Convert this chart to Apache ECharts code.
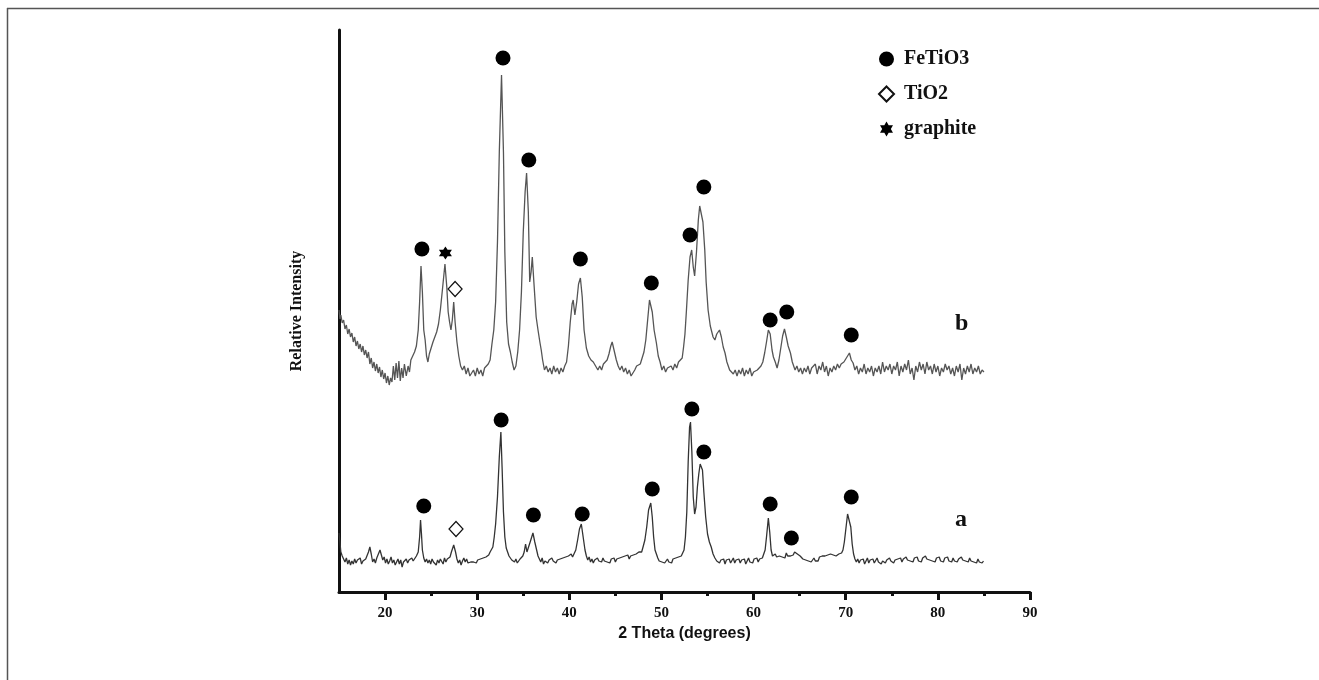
<!DOCTYPE html>
<html>
<head>
<meta charset="utf-8">
<script src="https://cdn.jsdelivr.net/npm/echarts@6/dist/echarts.min.js"></script>
<style>html,body{margin:0;padding:0;background:#fff;}#c{width:1319px;height:680px;}</style>
</head>
<body>
<div id="c"></div>
<script>
// 2 Theta tick labels
var majorTicks = [20,30,40,50,60,70,80,90];
var minorTicks = [25,35,45,55,65,75,85];

// Trace b (upper) : [2theta, relative intensity]
var traceB = [
[15.0,282],[15.1,273],[15.2,277],[15.35,269],[15.5,272],[15.65,263],[15.8,267],[15.95,258],[16.1,263],[16.25,255],[16.4,259],[16.55,250],[16.7,255],[16.85,246],[17.0,251],[17.15,243],[17.3,248],[17.45,240],[17.6,246],[17.75,237],[17.9,242],[18.05,234],[18.2,240],[18.35,228],[18.5,234],[18.65,224],[18.8,230],[18.95,221],[19.1,228],[19.25,219],[19.4,225],[19.55,215],[19.7,222],[19.85,213],[20.0,219],[20.15,209],[20.3,216],[20.45,207],[20.6,214],[20.75,210],[20.9,226],[21.05,212],[21.2,229],[21.35,214],[21.5,231],[21.65,211],[21.8,224],[21.95,214],[22.1,228],[22.3,216],[22.5,226],[22.65,220],[22.8,232],[23.0,234],[23.2,240],[23.4,246],[23.6,262],[23.75,290],[23.9,326],[24.05,300],[24.2,262],[24.35,252],[24.5,236],[24.65,230],[24.8,238],[25.0,240],[25.2,250],[25.4,252],[25.6,260],[25.8,268],[26.0,282],[26.2,300],[26.5,328],[26.7,305],[26.85,280],[27.0,270],[27.15,262],[27.3,272],[27.45,290],[27.6,270],[27.8,250],[28.0,236],[28.2,226],[28.4,222],[28.6,226],[28.8,218],[29.0,224],[29.2,216],[29.4,214],[29.6,222],[29.8,216],[30.0,224],[30.2,218],[30.4,222],[30.6,216],[30.8,224],[31.0,222],[31.2,228],[31.4,232],[31.6,248],[31.8,262],[32.0,290],[32.2,350],[32.4,440],[32.64,517],[32.85,440],[33.0,340],[33.2,270],[33.4,248],[33.6,240],[33.8,230],[34.0,222],[34.2,226],[34.4,240],[34.6,262],[34.8,300],[35.0,360],[35.2,400],[35.36,419],[35.55,380],[35.7,310],[35.85,320],[35.98,335],[36.15,310],[36.4,275],[36.6,262],[36.8,250],[36.95,242],[37.1,232],[37.3,222],[37.5,226],[37.7,220],[37.9,224],[38.1,218],[38.3,226],[38.5,220],[38.7,224],[38.9,218],[39.1,224],[39.3,220],[39.5,226],[39.7,230],[39.9,246],[40.1,270],[40.3,288],[40.42,292],[40.6,277],[40.8,290],[41.0,308],[41.2,314],[41.4,295],[41.6,262],[41.85,244],[42.1,236],[42.35,232],[42.6,230],[42.85,226],[43.1,222],[43.3,226],[43.5,222],[43.7,228],[43.9,226],[44.1,232],[44.3,238],[44.5,246],[44.65,250],[44.85,242],[45.1,232],[45.3,226],[45.5,222],[45.7,226],[45.9,220],[46.1,224],[46.3,218],[46.5,222],[46.7,216],[46.9,218],[47.1,222],[47.3,226],[47.5,224],[47.7,228],[47.9,234],[48.1,240],[48.3,252],[48.5,272],[48.7,292],[48.85,294],[49.0,280],[49.2,262],[49.45,249],[49.65,236],[49.85,230],[50.05,222],[50.25,226],[50.45,220],[50.65,224],[50.85,222],[51.05,226],[51.25,222],[51.45,228],[51.65,224],[51.85,230],[52.05,228],[52.25,234],[52.4,245],[52.55,258],[52.7,280],[52.9,312],[53.1,335],[53.28,342],[53.45,325],[53.6,316],[53.8,340],[54.0,372],[54.15,386],[54.3,388],[54.5,370],[54.7,342],[54.85,310],[55.06,282],[55.3,266],[55.6,255],[55.8,252],[56.0,258],[56.3,262],[56.5,255],[56.7,245],[56.9,239],[57.1,230],[57.4,222],[57.6,224],[57.8,218],[58.0,222],[58.2,216],[58.4,222],[58.6,218],[58.8,224],[59.0,216],[59.2,222],[59.4,218],[59.6,224],[59.8,216],[60.0,220],[60.2,218],[60.4,222],[60.6,220],[60.8,226],[61.0,230],[61.2,239],[61.4,250],[61.6,262],[61.8,258],[62.0,242],[62.15,235],[62.35,230],[62.55,224],[62.75,232],[62.95,244],[63.15,256],[63.35,263],[63.55,255],[63.75,246],[64.0,239],[64.2,230],[64.5,222],[64.7,226],[64.9,220],[65.1,224],[65.3,218],[65.5,224],[65.7,220],[65.9,226],[66.1,218],[66.3,224],[66.5,222],[66.7,228],[66.9,218],[67.1,226],[67.3,222],[67.5,230],[67.7,220],[67.9,226],[68.1,216],[68.3,224],[68.5,220],[68.7,226],[68.9,222],[69.1,228],[69.3,224],[69.5,228],[69.8,230],[70.0,232],[70.2,236],[70.4,239],[70.6,232],[70.8,229],[71.0,222],[71.2,226],[71.4,218],[71.6,224],[71.8,220],[72.0,228],[72.2,218],[72.4,224],[72.6,220],[72.8,226],[73.0,216],[73.2,224],[73.4,220],[73.6,226],[73.8,218],[74.0,230],[74.2,220],[74.4,226],[74.6,222],[74.8,228],[75.0,218],[75.2,226],[75.4,222],[75.6,230],[75.8,216],[76.0,226],[76.2,220],[76.4,228],[76.6,222],[76.8,232],[77.0,218],[77.2,224],[77.4,212],[77.6,226],[77.8,220],[78.0,230],[78.2,222],[78.4,228],[78.6,218],[78.8,230],[79.0,222],[79.2,226],[79.4,218],[79.6,228],[79.8,220],[80.0,226],[80.2,216],[80.4,224],[80.6,220],[80.8,228],[81.0,222],[81.2,226],[81.4,218],[81.6,224],[81.8,216],[82.0,226],[82.2,220],[82.4,228],[82.6,212],[82.8,224],[83.0,218],[83.2,226],[83.4,220],[83.6,228],[83.8,218],[84.0,224],[84.2,220],[84.4,226],[84.6,218],[84.8,222],[85.0,220]
];

// Trace a (lower)
var traceA = [
[15.0,59],[15.1,50],[15.2,40],[15.35,36],[15.5,33],[15.65,30],[15.8,34],[15.95,28],[16.1,32],[16.25,27],[16.4,31],[16.55,28],[16.7,33],[16.85,29],[17.0,32],[17.15,30],[17.3,34],[17.45,28],[17.6,31],[17.75,29],[17.9,33],[18.05,34],[18.2,40],[18.35,45],[18.5,38],[18.65,30],[18.8,33],[18.95,29],[19.1,34],[19.25,36],[19.45,42],[19.6,37],[19.75,32],[19.9,35],[20.05,29],[20.2,33],[20.35,28],[20.5,31],[20.65,35],[20.8,29],[20.95,32],[21.1,27],[21.25,30],[21.4,33],[21.55,28],[21.7,32],[21.85,25],[22.0,30],[22.15,28],[22.3,33],[22.45,29],[22.6,32],[22.75,30],[22.9,34],[23.05,31],[23.2,33],[23.4,36],[23.6,40],[23.75,55],[23.85,72],[23.95,58],[24.05,42],[24.2,34],[24.35,30],[24.5,33],[24.65,29],[24.8,32],[24.95,28],[25.1,33],[25.25,30],[25.4,31],[25.55,27],[25.7,32],[25.85,29],[26.0,33],[26.15,31],[26.3,28],[26.45,34],[26.6,30],[26.75,33],[26.9,31],[27.05,35],[27.2,40],[27.45,47],[27.65,40],[27.8,33],[27.95,29],[28.1,32],[28.25,27],[28.4,31],[28.55,34],[28.7,30],[28.85,33],[29.0,29],[29.15,31],[29.3,30],[29.45,32],[29.6,30],[29.75,31],[29.9,29],[30.05,32],[30.2,31],[30.35,33],[30.5,31],[30.65,34],[30.8,32],[30.95,35],[31.1,34],[31.25,37],[31.4,40],[31.55,38],[31.7,45],[31.85,55],[32.0,68],[32.2,95],[32.4,135],[32.57,160],[32.7,125],[32.85,80],[33.0,55],[33.15,44],[33.3,40],[33.45,36],[33.6,37],[33.75,32],[33.9,34],[34.05,30],[34.2,33],[34.35,29],[34.5,31],[34.65,33],[34.8,32],[34.95,36],[35.1,40],[35.25,48],[35.4,40],[35.55,42],[35.75,50],[36.05,59],[36.25,50],[36.45,42],[36.6,36],[36.75,33],[36.9,30],[37.05,34],[37.2,28],[37.35,31],[37.5,33],[37.65,29],[37.8,32],[37.95,30],[38.1,34],[38.25,31],[38.4,33],[38.55,29],[38.7,32],[38.85,30],[39.0,33],[39.15,31],[39.3,34],[39.45,32],[39.6,35],[39.75,33],[39.9,36],[40.05,34],[40.2,38],[40.35,35],[40.5,38],[40.7,42],[40.9,52],[41.1,63],[41.3,68],[41.5,55],[41.7,42],[41.85,36],[42.0,32],[42.15,35],[42.3,30],[42.45,33],[42.6,29],[42.75,32],[42.9,30],[43.05,34],[43.2,31],[43.35,33],[43.5,30],[43.65,34],[43.8,31],[43.95,33],[44.1,30],[44.25,32],[44.4,29],[44.55,33],[44.7,31],[44.85,34],[45.0,30],[45.15,33],[45.3,31],[45.45,34],[45.6,32],[45.75,35],[45.9,33],[46.05,36],[46.2,34],[46.35,37],[46.5,33],[46.65,36],[46.8,34],[46.95,37],[47.1,35],[47.25,38],[47.4,36],[47.55,40],[47.7,42],[47.85,40],[48.0,45],[48.2,52],[48.4,65],[48.6,82],[48.84,89],[49.0,75],[49.15,55],[49.3,42],[49.45,38],[49.6,34],[49.75,31],[49.9,33],[50.05,30],[50.2,32],[50.35,29],[50.5,31],[50.65,33],[50.8,30],[50.95,32],[51.1,29],[51.25,33],[51.4,31],[51.55,34],[51.7,32],[51.85,35],[52.0,33],[52.15,36],[52.3,38],[52.45,42],[52.6,55],[52.75,80],[52.9,130],[53.05,165],[53.15,170],[53.3,140],[53.45,95],[53.6,78],[53.75,85],[53.9,105],[54.05,118],[54.2,128],[54.3,130],[54.45,122],[54.6,100],[54.8,75],[55.0,58],[55.2,50],[55.4,45],[55.6,38],[55.8,34],[56.0,31],[56.15,33],[56.3,29],[56.45,32],[56.6,30],[56.75,33],[56.9,28],[57.05,32],[57.2,30],[57.35,33],[57.5,29],[57.65,31],[57.8,34],[57.95,29],[58.1,32],[58.25,30],[58.4,33],[58.55,29],[58.7,32],[58.85,30],[59.0,33],[59.15,28],[59.3,31],[59.45,34],[59.6,30],[59.75,32],[59.9,29],[60.05,33],[60.2,31],[60.35,34],[60.5,30],[60.65,33],[60.8,31],[60.95,34],[61.1,36],[61.25,42],[61.4,55],[61.6,74],[61.75,60],[61.9,42],[62.05,36],[62.2,34],[62.35,38],[62.5,35],[62.65,33],[62.8,36],[62.95,38],[63.1,35],[63.25,37],[63.4,34],[63.55,39],[63.7,36],[63.85,34],[64.0,36],[64.15,38],[64.3,37],[64.45,40],[64.6,40],[64.75,38],[64.9,39],[65.05,36],[65.2,37],[65.35,33],[65.5,35],[65.65,32],[65.8,34],[65.95,31],[66.1,33],[66.25,30],[66.4,32],[66.55,34],[66.7,31],[66.85,33],[67.0,31],[67.15,35],[67.3,33],[67.45,36],[67.6,34],[67.75,36],[67.9,34],[68.05,37],[68.2,36],[68.35,38],[68.5,36],[68.65,37],[68.8,39],[68.95,36],[69.1,35],[69.25,38],[69.4,36],[69.55,39],[69.7,42],[69.85,50],[70.0,62],[70.2,78],[70.4,80],[70.55,65],[70.7,48],[70.85,38],[71.0,33],[71.15,30],[71.3,33],[71.45,29],[71.6,32],[71.75,30],[71.9,33],[72.05,28],[72.2,31],[72.35,34],[72.5,29],[72.65,32],[72.8,30],[72.95,33],[73.1,29],[73.25,31],[73.4,34],[73.55,30],[73.7,32],[73.85,28],[74.0,31],[74.15,33],[74.3,29],[74.45,32],[74.6,30],[74.75,34],[74.9,31],[75.05,33],[75.2,29],[75.35,32],[75.5,30],[75.65,33],[75.8,31],[75.95,34],[76.1,30],[76.25,33],[76.4,31],[76.55,35],[76.7,32],[76.85,34],[77.0,31],[77.15,33],[77.3,30],[77.45,34],[77.6,32],[77.75,35],[77.9,31],[78.05,33],[78.2,30],[78.35,34],[78.5,32],[78.65,36],[78.8,33],[78.95,35],[79.1,32],[79.25,34],[79.4,31],[79.55,33],[79.7,30],[79.85,34],[80.0,32],[80.15,35],[80.3,31],[80.45,33],[80.6,30],[80.75,34],[80.9,32],[81.05,35],[81.2,31],[81.35,33],[81.5,30],[81.65,34],[81.8,31],[81.95,33],[82.1,30],[82.25,33],[82.4,31],[82.55,35],[82.7,32],[82.85,34],[83.0,31],[83.15,33],[83.3,30],[83.45,34],[83.6,31],[83.75,33],[83.9,30],[84.05,32],[84.2,29],[84.35,33],[84.5,30],[84.65,32],[84.8,29],[84.95,31]
];

// Phase markers (placed above peaks)
var fetio3Marks = [[24.0,343],[32.8,534],[35.6,432],[41.2,333],[48.9,309],[53.1,357],[54.6,405],[61.8,272],[63.6,280],[70.6,257],
                   [24.2,86],[32.6,172],[36.1,77],[41.4,78],[49.0,103],[53.3,183],[54.6,140],[61.8,88],[64.1,54],[70.6,95]];
var tio2Marks = [[27.6,303],[27.7,63]];
var graphiteMarks = [[26.55,339]];

var starPath = 'path://M0,-10 L2.9,-5 L8.66,-5 L5.8,0 L8.66,5 L2.9,5 L0,10 L-2.9,5 L-8.66,5 L-5.8,0 L-8.66,-5 L-2.9,-5 Z';
var serif = '"Liberation Serif","DejaVu Serif",serif';

var chart = echarts.init(document.getElementById('c'));
chart.setOption({
  backgroundColor: '#fff',
  animation: false,
  grid: {left: 339, right: 289, top: 30, bottom: 88},
  legend: {
    orient: 'vertical', left: 873, top: 44, itemGap: 15, itemWidth: 15, itemHeight: 15,
    data: ['FeTiO3', 'TiO2', 'graphite'],
    textStyle: {fontFamily: serif, fontWeight: 'bold', fontSize: 20, color: '#111', padding: [0, 0, 0, 5]}
  },
  xAxis: [{
    type: 'value', min: 15, max: 90,
    name: '2 Theta (degrees)', nameLocation: 'middle', nameGap: 34,
    nameTextStyle: {fontFamily: '"Liberation Sans",Arial,sans-serif', fontWeight: 'bold', fontSize: 16, color: '#111'},
    axisLine: {show: true, lineStyle: {color: '#111', width: 3}},
    axisTick: {show: true, length: 8, customValues: majorTicks, lineStyle: {color: '#111', width: 3}},
    axisLabel: {customValues: majorTicks, fontFamily: serif, fontWeight: 'bold', fontSize: 15, color: '#111', margin: 14},
    splitLine: {show: false}
  }, {
    type: 'value', min: 15, max: 90, position: 'bottom', gridIndex: 0,
    axisLine: {show: false},
    axisTick: {show: true, length: 4, customValues: minorTicks, lineStyle: {color: '#111', width: 3}},
    axisLabel: {show: false},
    splitLine: {show: false}
  }],
  yAxis: {
    type: 'value', min: 0, max: 562,
    name: 'Relative Intensity', nameLocation: 'middle', nameGap: 34, nameRotate: 90,
    nameTextStyle: {fontFamily: serif, fontWeight: 'bold', fontSize: 16, color: '#111'},
    axisLine: {show: true, lineStyle: {color: '#111', width: 3}},
    axisTick: {show: false}, axisLabel: {show: false}, splitLine: {show: false}
  },
  series: [
    {name: 'b', type: 'line', data: traceB, showSymbol: false, symbol: 'none', lineStyle: {color: '#555', width: 1.3}, z: 2},
    {name: 'a', type: 'line', data: traceA, showSymbol: false, symbol: 'none', lineStyle: {color: '#333', width: 1.3}, z: 2},
    {name: 'FeTiO3', type: 'scatter', data: fetio3Marks, symbol: 'circle', symbolSize: 15, itemStyle: {color: '#000', opacity: 1}, z: 3},
    {name: 'TiO2', type: 'scatter', data: tio2Marks, symbol: 'diamond', symbolSize: [14, 15], itemStyle: {color: '#fff', borderColor: '#111', borderWidth: 1.2, opacity: 1}, z: 3},
    {name: 'graphite', type: 'scatter', data: graphiteMarks, symbol: starPath, symbolSize: 13, itemStyle: {color: '#000', opacity: 1}, z: 3}
  ],
  graphic: [
    {type: 'line', shape: {x1: 7, y1: 8.5, x2: 1319, y2: 8.5}, style: {stroke: '#555', lineWidth: 1.5}},
    {type: 'line', shape: {x1: 7.5, y1: 8, x2: 7.5, y2: 680}, style: {stroke: '#555', lineWidth: 1.5}},
    {type: 'text', left: 955, top: 312, style: {text: 'b', font: 'bold 24px "Liberation Serif"', fill: '#111'}},
    {type: 'text', left: 955, top: 508, style: {text: 'a', font: 'bold 24px "Liberation Serif"', fill: '#111'}}
  ]
});
</script>
</body>
</html>
